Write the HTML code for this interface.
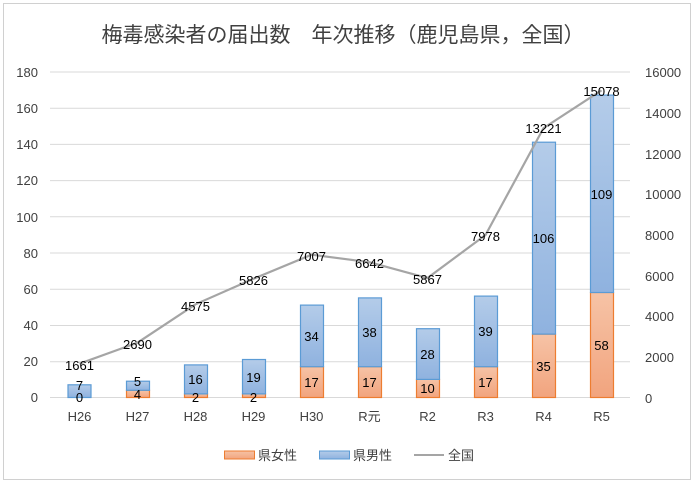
<!DOCTYPE html>
<html><head><meta charset="utf-8"><style>
body{margin:0;background:#fff}
text{font-family:"Liberation Sans","Noto Sans CJK JP",sans-serif}
</style></head><body>
<svg width="700" height="487" viewBox="0 0 700 487" xmlns="http://www.w3.org/2000/svg">
<defs>
<linearGradient id="b" x1="0" y1="0" x2="0" y2="1"><stop offset="0" stop-color="#b4cce9"/><stop offset="1" stop-color="#8fb2df"/></linearGradient>
<linearGradient id="o" x1="0" y1="0" x2="0" y2="1"><stop offset="0" stop-color="#f6c3a6"/><stop offset="1" stop-color="#f2a47e"/></linearGradient>
</defs>
<rect x="3.5" y="3.5" width="687" height="476" fill="#fff" stroke="#d0d0d0"/>
<text x="343" y="42" font-size="21" text-anchor="middle" fill="#404040">梅毒感染者の届出数　年次推移（鹿児島県，全国）</text>
<g stroke="#d9d9d9" stroke-width="1">
<line x1="50" x2="630" y1="72" y2="72"/><line x1="50" x2="630" y1="108.2" y2="108.2"/><line x1="50" x2="630" y1="144.4" y2="144.4"/><line x1="50" x2="630" y1="180.6" y2="180.6"/><line x1="50" x2="630" y1="216.8" y2="216.8"/><line x1="50" x2="630" y1="253" y2="253"/><line x1="50" x2="630" y1="289.3" y2="289.3"/><line x1="50" x2="630" y1="325.5" y2="325.5"/><line x1="50" x2="630" y1="361.7" y2="361.7"/><line x1="50" x2="630" y1="397.5" y2="397.5"/>
</g>
<g font-size="13" fill="#404040" text-anchor="end">
<text x="38" y="77">180</text><text x="38" y="113">160</text><text x="38" y="149">140</text><text x="38" y="185">120</text><text x="38" y="222">100</text><text x="38" y="258">80</text><text x="38" y="294">60</text><text x="38" y="330">40</text><text x="38" y="366">20</text><text x="38" y="402">0</text>
</g>
<g font-size="13" fill="#404040" text-anchor="start">
<text x="645" y="77">16000</text><text x="645" y="118">14000</text><text x="645" y="159">12000</text><text x="645" y="199">10000</text><text x="645" y="240">8000</text><text x="645" y="281">6000</text><text x="645" y="321">4000</text><text x="645" y="362">2000</text><text x="645" y="403">0</text>
</g>
<g stroke-width="1.2">
<rect x="68" y="384.8" width="23" height="12.7" fill="url(#b)" stroke="#5b9bd5"/>
<rect x="126.5" y="390.3" width="23" height="7.2" fill="url(#o)" stroke="#ed7d31"/>
<rect x="126.5" y="381.2" width="23" height="9.1" fill="url(#b)" stroke="#5b9bd5"/>
<rect x="184.5" y="393.9" width="23" height="3.6" fill="url(#o)" stroke="#ed7d31"/>
<rect x="184.5" y="364.9" width="23" height="29" fill="url(#b)" stroke="#5b9bd5"/>
<rect x="242.5" y="393.9" width="23" height="3.6" fill="url(#o)" stroke="#ed7d31"/>
<rect x="242.5" y="359.5" width="23" height="34.4" fill="url(#b)" stroke="#5b9bd5"/>
<rect x="300.5" y="366.7" width="23" height="30.8" fill="url(#o)" stroke="#ed7d31"/>
<rect x="300.5" y="305.1" width="23" height="61.6" fill="url(#b)" stroke="#5b9bd5"/>
<rect x="358.5" y="366.7" width="23" height="30.8" fill="url(#o)" stroke="#ed7d31"/>
<rect x="358.5" y="297.9" width="23" height="68.8" fill="url(#b)" stroke="#5b9bd5"/>
<rect x="416.5" y="379.4" width="23" height="18.1" fill="url(#o)" stroke="#ed7d31"/>
<rect x="416.5" y="328.7" width="23" height="50.7" fill="url(#b)" stroke="#5b9bd5"/>
<rect x="474.5" y="366.7" width="23" height="30.8" fill="url(#o)" stroke="#ed7d31"/>
<rect x="474.5" y="296.1" width="23" height="70.6" fill="url(#b)" stroke="#5b9bd5"/>
<rect x="532.5" y="334.1" width="23" height="63.4" fill="url(#o)" stroke="#ed7d31"/>
<rect x="532.5" y="142.2" width="23" height="191.9" fill="url(#b)" stroke="#5b9bd5"/>
<rect x="590.5" y="292.5" width="23" height="105" fill="url(#o)" stroke="#ed7d31"/>
<rect x="590.5" y="95.1" width="23" height="197.4" fill="url(#b)" stroke="#5b9bd5"/>
</g>
<polyline fill="none" stroke="#a5a5a5" stroke-width="2.2" points="79.5,363.7 137.5,342.7 195.5,304.3 253.5,278.8 311.5,254.7 369.5,262.2 427.5,278 485.5,235 543.5,128.1 601.5,90.3"/>
<g font-size="13" fill="#000" text-anchor="middle">
<text x="79.5" y="370">1661</text><text x="137.5" y="349">2690</text><text x="195.5" y="311">4575</text><text x="253.5" y="285">5826</text><text x="311.5" y="261">7007</text><text x="369.5" y="268">6642</text><text x="427.5" y="284">5867</text><text x="485.5" y="241">7978</text><text x="543.5" y="133">13221</text><text x="601.5" y="96">15078</text>
<text x="79.5" y="390">7</text><text x="79.5" y="402">0</text>
<text x="137.5" y="386">5</text><text x="137.5" y="399">4</text>
<text x="195.5" y="384">16</text><text x="195.5" y="402">2</text>
<text x="253.5" y="382">19</text><text x="253.5" y="402">2</text>
<text x="311.5" y="341">34</text><text x="311.5" y="387">17</text>
<text x="369.5" y="337">38</text><text x="369.5" y="387">17</text>
<text x="427.5" y="359">28</text><text x="427.5" y="393">10</text>
<text x="485.5" y="336">39</text><text x="485.5" y="387">17</text>
<text x="543.5" y="243">106</text><text x="543.5" y="371">35</text>
<text x="601.5" y="199">109</text><text x="601.5" y="350">58</text>
</g>
<g font-size="13" fill="#404040" text-anchor="middle">
<text x="79.5" y="421">H26</text><text x="137.5" y="421">H27</text><text x="195.5" y="421">H28</text><text x="253.5" y="421">H29</text><text x="311.5" y="421">H30</text><text x="369.5" y="421">R元</text><text x="427.5" y="421">R2</text><text x="485.5" y="421">R3</text><text x="543.5" y="421">R4</text><text x="601.5" y="421">R5</text>
</g>
<rect x="224.5" y="451" width="30" height="8" fill="url(#o)" stroke="#ed7d31"/>
<text x="258" y="460" font-size="13" fill="#404040">県女性</text>
<rect x="319.5" y="451" width="30" height="8" fill="url(#b)" stroke="#5b9bd5"/>
<text x="353" y="460" font-size="13" fill="#404040">県男性</text>
<line x1="414" x2="444" y1="455" y2="455" stroke="#a5a5a5" stroke-width="2"/>
<text x="448" y="460" font-size="13" fill="#404040">全国</text>
</svg>
</body></html>
